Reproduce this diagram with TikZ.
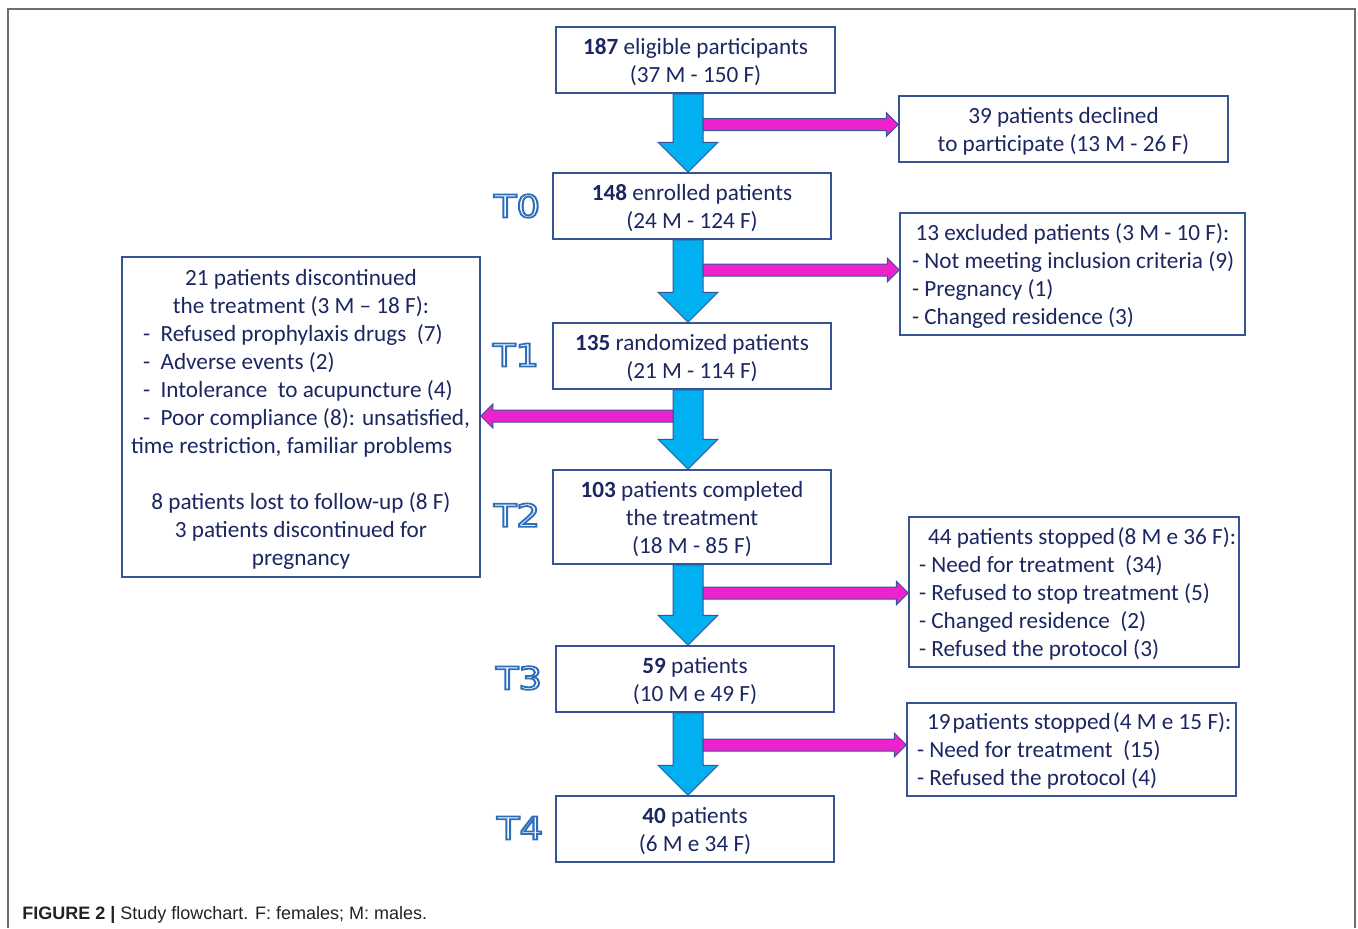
\documentclass[tikz,border=0pt]{standalone}
\usepackage{fontspec}
\usepackage{graphicx}
\usetikzlibrary{calc}
\setmainfont{Carlito}
\newfontfamily\capfont{Liberation Sans}
\newfontfamily\tfont{DejaVu Sans}
\definecolor{boxline}{RGB}{52,84,150}
\definecolor{txt}{RGB}{28,38,96}
\definecolor{cyanfill}{RGB}{0,176,240}
\definecolor{magfill}{RGB}{238,34,204}
\definecolor{tblue}{RGB}{46,110,185}
\definecolor{framegray}{RGB}{110,110,110}
\definecolor{capcol}{RGB}{34,34,34}
\newdimen\px \px=0.75pt
\newcommand\LL[2]{\makebox[#1][l]{#2}}
\newcommand\sx{\rule{0pt}{15.5pt}}
\newcommand\tl[1]{\scalebox{1.18}[1]{\special{pdf:literal direct 1 Tr 1.3 w}#1\special{pdf:literal direct 0 Tr}}}
\newcommand\blockdown[2]{%
  \filldraw[blockarrow] ($(#1.south -| ax)+(-15,0)$) -- ($(#1.south -| ax)+(15,0)$)
    -- ($(#2.north -| ax)+(15,-30)$) -- ($(#2.north -| ax)+(30,-30)$)
    -- (#2.north -| ax) -- ($(#2.north -| ax)+(-30,-30)$)
    -- ($(#2.north -| ax)+(-15,-30)$) -- cycle;}
\newcommand\sideR[2]{%
  \filldraw[magarrow] ($(#1)+(0,-6)$) -- ($(#1 -| #2.west)+(-12,-6)$)
    -- ($(#1 -| #2.west)+(-12,-12)$) -- (#1 -| #2.west)
    -- ($(#1 -| #2.west)+(-12,12)$) -- ($(#1 -| #2.west)+(-12,6)$)
    -- ($(#1)+(0,6)$) -- cycle;}
\newcommand\sideL[2]{%
  \filldraw[magarrow] ($(#1)+(0,-6)$) -- ($(#1 -| #2.east)+(12,-6)$)
    -- ($(#1 -| #2.east)+(12,-12)$) -- (#1 -| #2.east)
    -- ($(#1 -| #2.east)+(12,12)$) -- ($(#1 -| #2.east)+(12,6)$)
    -- ($(#1)+(0,6)$) -- cycle;}
\begin{document}
\begin{tikzpicture}[x=0.75pt,y=-0.75pt,
  fbox/.style={draw=boxline, line width=1.5\px, inner sep=0pt, text=txt,
    font=\fontsize{17.4}{21}\selectfont, align=center},
  area/.style n args={4}{minimum width={(#3-#1)*0.75pt}, minimum height={(#4-#2)*0.75pt},
    at={({(#1+#3)/2},{(#2+#4)/2})}},
  blockarrow/.style={fill=cyanfill, draw=boxline, line width=1\px},
  magarrow/.style={fill=magfill, draw=boxline, line width=1\px},
  tlab/.style={font=\tfont\fontsize{23.5}{28}\selectfont, inner sep=0pt, text=tblue},
  frame/.style={draw=framegray, line width=2\px}]
\useasboundingbox (0,0) rectangle (1358,928);
\draw[frame] (8,928) -- (8,9) -- (1355,9) -- (1355,928);

% main boxes
\node[fbox, area={556}{27}{835}{93}] (B0) {\sx\textbf{187} eligible participants\\(37 M - 150 F)};
\node[fbox, area={553}{173}{831}{239}] (B1) {\sx\textbf{148} enrolled patients\\(24 M - 124 F)};
\node[fbox, area={553}{323}{831}{389}] (B2) {\sx\textbf{135} randomized patients\\(21 M - 114 F)};
\node[fbox, area={553}{470}{831}{564}] (B3) {\sx\textbf{103} patients completed\\the treatment\\(18 M - 85 F)};
\node[fbox, area={556}{646}{834}{712}] (B4) {\sx\textbf{59} patients\\(10 M e 49 F)};
\node[fbox, area={556}{796}{834}{862}] (B5) {\sx\textbf{40} patients\\(6 M e 34 F)};

% side boxes
\node[fbox, area={899}{96}{1228}{162}] (D1) {\sx 39 patients declined\\to participate (13 M - 26 F)};
\node[fbox, area={900}{213}{1245}{335}] (D2) {\sx 13 excluded patients (3 M - 10 F):\\
  \LL{321\px}{- Not meeting inclusion criteria (9)}\\
  \LL{321\px}{- Pregnancy (1)}\\
  \LL{321\px}{- Changed residence (3)}};
\node[fbox, area={909}{517}{1239}{667}] (D3) {\sx\LL{310\px}{\hspace{9\px}44 patients stopped\hspace{2.5\px}(8 M e 36 F):}\\
  \LL{310\px}{- Need for treatment\ \ (34)}\\
  \LL{310\px}{- Refused to stop treatment (5)}\\
  \LL{310\px}{- Changed residence\ \ (2)}\\
  \LL{310\px}{- Refused the protocol (3)}};
\node[fbox, area={907}{703}{1236}{796}] (D4) {\sx\LL{309\px}{\hspace{10\px}19\hspace{2\px}patients stopped\hspace{2\px}(4 M e 15 F):}\\
  \LL{309\px}{- Need for treatment\ \ (15)}\\
  \LL{309\px}{- Refused the protocol (4)}};
\node[fbox, area={122}{257}{480}{577}] (L) {\sx 21 patients discontinued\\
  the treatment (3 M -- 18 F):\\
  \LL{316\px}{-\ \ Refused prophylaxis drugs\ \ (7)}\\
  \LL{316\px}{-\ \ Adverse events (2)}\\
  \LL{316\px}{-\ \ Intolerance\ \ to acupuncture (4)}\\
  \LL{316\px}{-\ \ Poor compliance (8): unsatisfied,}\\
  \LL{316\px}{\hspace{-12\px}time restriction, familiar problems}\\
  \mbox{}\\
  8 patients lost to follow-up (8 F)\\
  3 patients discontinued for\\
  pregnancy};

% time labels
\node[tlab] (T0) at (517,206) {\tl{T0}};
\node[tlab] (T1) at (516,355) {\tl{T1}};
\node[tlab] (T2) at (517,515) {\tl{T2}};
\node[tlab] (T3) at (519,678) {\tl{T3}};
\node[tlab] (T4) at (520,828) {\tl{T4}};

% arrows
\coordinate (ax) at (688,0);
\blockdown{B0}{B1}
\blockdown{B1}{B2}
\blockdown{B2}{B3}
\blockdown{B3}{B4}
\blockdown{B4}{B5}

\coordinate (m1) at (703,124.5);
\coordinate (m2) at (703,270);
\coordinate (m3) at (673,416);
\coordinate (m4) at (703,593);
\coordinate (m5) at (703,745);
\sideR{m1}{D1}
\sideR{m2}{D2}
\sideL{m3}{L}
\sideR{m4}{D3}
\sideR{m5}{D4}

% caption
\node[anchor=west, inner sep=0pt, text=capcol, font=\capfont\fontsize{13.5}{16}\selectfont] (cap) at (22,915)
  {\textbf{FIGURE 2 |} Study flowchart. F: females; M: males.};
\end{tikzpicture}
\end{document}
